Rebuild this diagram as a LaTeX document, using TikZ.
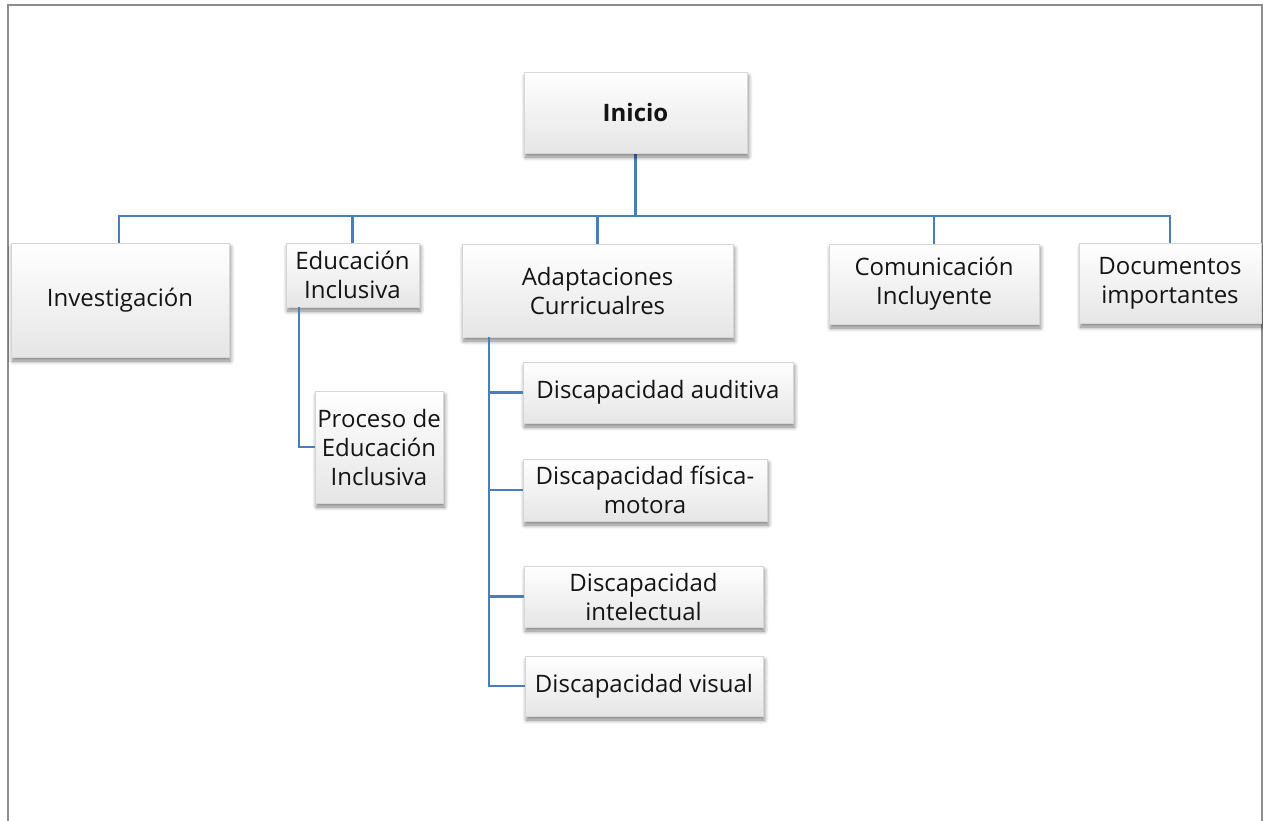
\documentclass[tikz,border=0pt]{standalone}
\usepackage{fontspec}
\setmainfont{Open Sans}
\usetikzlibrary{shadows.blur}
\definecolor{linkblue}{HTML}{4A7EBB}
\definecolor{framegray}{HTML}{8C8C8C}
\tikzset{
  box/.style={draw=black!16, line width=0.6pt,
    top color=white, middle color=white, bottom color=black!10,
    align=center, inner sep=2pt, text=black!92,
    font=\fontsize{24}{29}\selectfont,
    blur shadow={shadow xshift=1.5pt, shadow yshift=-4pt,
      shadow blur radius=4pt, shadow blur steps=6, shadow opacity=50}},
  boxsize/.style 2 args={minimum width=#1pt, minimum height=#2pt},
  conn/.style={draw=linkblue, line width=2.8pt},
  frameline/.style={draw=framegray, line width=1.6pt},
}
\begin{document}
\begin{tikzpicture}[x=1pt, y=-1pt]
  \useasboundingbox (0,0) rectangle (1263,820);
  % page frame
  \draw[frameline] (8,822) -- (8,5) -- (1262,5) -- (1262,822);

  % connector levels
  \coordinate (bus) at (635.5,216);
  \coordinate (eduspine) at (299,307);
  \coordinate (adaspine) at (489,337);

  % connectors (drawn first so the boxes sit on top)
  \coordinate (iniS) at (635.5,153);
  \coordinate (invN) at (119,243);
  \coordinate (eduN) at (352.5,243);
  \coordinate (adaN) at (597.5,244);
  \coordinate (comN) at (934,244);
  \coordinate (docN) at (1170,243);

  \draw[conn] (iniS) -- (bus);
  \draw[conn] (invN) |- (bus);
  \draw[conn] (docN) |- (bus);
  \draw[conn] (eduN) -- (eduN |- bus);
  \draw[conn] (adaN) -- (adaN |- bus);
  \draw[conn] (comN) -- (comN |- bus);

  % boxes
  \node[box, boxsize={223}{81}] (ini) at (635.5,112.5) {\textbf{Inicio}};
  \node[box, boxsize={218}{114}] (inv) at (120,300) {Investigación};
  \node[box, boxsize={133}{64}] (edu) at (352.5,275) {Educación\\Inclusiva};
  \node[box, boxsize={128}{112}] (pro) at (379,447) {Proceso de\\Educación\\Inclusiva};
  \node[box, boxsize={271}{93}] (ada) at (597.5,290.5) {Adaptaciones\\Curricualres};
  \node[box, boxsize={270}{61}] (aud) at (658,392.5) {Discapacidad auditiva};
  \node[box, boxsize={244}{62}] (fis) at (645,490) {Discapacidad física-\\motora};
  \node[box, boxsize={239}{61}] (int) at (643.5,596.5) {Discapacidad\\intelectual};
  \node[box, boxsize={238}{60}] (vis) at (644,686) {Discapacidad visual};
  \node[box, boxsize={210}{80}] (com) at (934,284) {Comunicación\\Incluyente};
  \node[box, boxsize={182}{80}] (doc) at (1170,283) {Documentos\\importantes};

  % sub-branches
  \draw[conn] (eduspine) |- (pro.west);
  \draw[conn] (adaspine) |- (aud.west);
  \draw[conn] (adaspine) |- (fis.west);
  \draw[conn] (adaspine) |- (int.west);
  \draw[conn] (adaspine) |- (vis.west);
\end{tikzpicture}
\end{document}
